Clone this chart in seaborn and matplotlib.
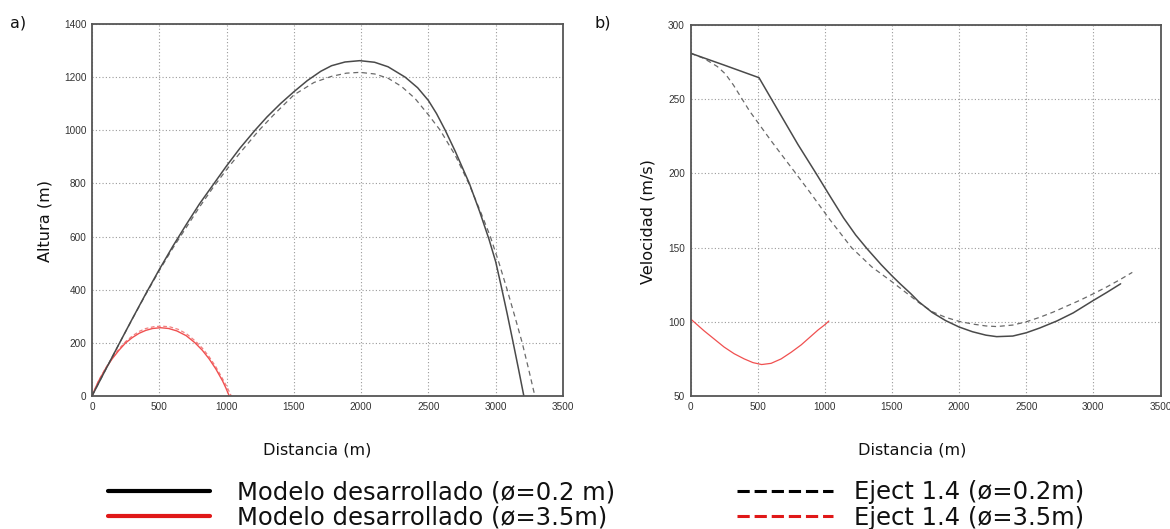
import matplotlib
matplotlib.use("Agg")
import matplotlib.pyplot as plt
from matplotlib.lines import Line2D
import seaborn as sns
import pandas as pd

# ---------------- data: panel a) Altura vs Distancia ----------------
a_model02_x = [0, 100, 200, 300, 400, 500, 600, 700, 800, 907, 1000, 1100, 1211, 1300, 1400, 1500,
               1600, 1700, 1780, 1880, 1990, 2100, 2200, 2327, 2420, 2500, 2560, 2625, 2700, 2804,
               2880, 2950, 3000, 3040, 3085, 3130, 3170, 3209]
a_model02_y = [0, 98, 195, 291, 385, 476, 563, 645, 724, 800, 866, 933, 1000, 1050, 1100, 1145,
               1187, 1222, 1243, 1257, 1262, 1256, 1239, 1200, 1160, 1112, 1063, 1000, 920, 800,
               695, 590, 505, 415, 310, 200, 100, 0]

a_eject02_x = [0, 100, 200, 300, 400, 500, 600, 700, 800, 900, 1000, 1100, 1241, 1350, 1500, 1650,
               1780, 1890, 1990, 2100, 2200, 2300, 2400, 2500, 2588, 2700, 2800, 2890, 2960, 3025,
               3085, 3140, 3197, 3245, 3291]
a_eject02_y = [0, 98, 195, 290, 383, 472, 556, 634, 712, 785, 852, 915, 1000, 1058, 1133, 1180,
               1203, 1215, 1218, 1212, 1196, 1165, 1120, 1058, 1000, 905, 800, 690, 600, 500,
               400, 303, 200, 100, 0]

a_model35_x = [0, 25, 50, 100, 150, 200, 250, 300, 350, 400, 450, 510, 570, 630, 700, 766, 820,
               870, 920, 970, 995, 1020]
a_model35_y = [0, 30, 57, 102, 140, 172, 200, 220, 236, 247, 254, 257, 254, 245, 227, 200, 172,
               140, 102, 57, 30, 0]

a_eject35_x = [0, 50, 100, 150, 200, 250, 300, 350, 400, 460, 520, 580, 640, 700, 770, 820, 870,
               920, 970, 1005, 1035]
a_eject35_y = [0, 58, 104, 144, 177, 205, 226, 243, 254, 261, 263, 260, 251, 235, 206, 180, 148,
               110, 65, 32, 0]

# ---------------- data: panel b) Velocidad vs Distancia ----------------
b_model02_x = [0, 250, 510, 600, 700, 800, 935, 1040, 1140, 1230, 1317, 1420, 1500, 1560, 1640,
               1700, 1800, 1900, 2000, 2100, 2200, 2280, 2400, 2500, 2600, 2727, 2850, 3000, 3100,
               3203]
b_model02_y = [281, 273, 264.5, 250.5, 235, 219.5, 200, 184.5, 170, 158.5, 149, 138.5, 131,
               125.7, 119, 113.5, 106.3, 100.8, 96.5, 93.3, 91, 90, 90.4, 92.6, 95.8, 100.5, 106,
               114.4, 119.8, 125.6]

b_eject02_x = [0, 100, 200, 260, 320, 378, 440, 500, 600, 700, 780, 900, 1028, 1199, 1350, 1500,
               1600, 1700, 1800, 1900, 2000, 2100, 2200, 2280, 2400, 2500, 2600, 2700, 2800, 2900,
               3000, 3100, 3200, 3290]
b_eject02_y = [281, 277.5, 272, 267, 259.5, 251, 242, 234.5, 222, 210, 200.5, 186, 170, 150, 137,
               127, 120, 113, 106.8, 103, 100.3, 98.5, 97.2, 96.8, 97.8, 100, 103, 106.5, 110.5,
               114.5, 118.9, 123.5, 128.5, 133.3]

b_model35_x = [0, 50, 100, 175, 250, 325, 400, 465, 530, 600, 675, 750, 825, 900, 950, 1000, 1030]
b_model35_y = [102, 98, 94, 88.5, 83, 78.5, 75, 72.5, 71.2, 72, 75, 79.5, 84.5, 90.5, 94.5, 98, 100.5]

x_ticks = [0, 500, 1000, 1500, 2000, 2500, 3000, 3500]
a_yticks = [0, 200, 400, 600, 800, 1000, 1200, 1400]
b_yticks = [50, 100, 150, 200, 250, 300]

legend_labels = ["Modelo desarrollado (ø=0.2 m)", "Modelo desarrollado (ø=3.5m)",
                 "Eject 1.4 (ø=0.2m)", "Eject 1.4 (ø=3.5m)"]

# ---------------- figure ----------------
sns.set_theme(style="white")
plt.rcParams["font.family"] = ["DejaVu Sans"]

fig = plt.figure(figsize=(11.7, 5.29), dpi=100)
W, H = 1170, 529
ax_a = fig.add_axes([92 / W, 1 - 396 / H, (563 - 92) / W, (396 - 24) / H])
ax_b = fig.add_axes([690.5 / W, 1 - 396 / H, (1160.5 - 690.5) / W, (396 - 25) / H])

solid_col = "#4a4a4a"
dash_col = "#6a6a6a"
red_col = "#f05050"


def draw(ax, x, y, color, lw, ls):
    df = pd.DataFrame({"x": x, "y": y})
    sns.lineplot(data=df, x="x", y="y", ax=ax, color=color, linewidth=lw,
                 linestyle=ls, estimator=None, sort=False, legend=False)


draw(ax_a, a_eject35_x, a_eject35_y, "#f28080", 0.9, (0, (3, 2)))
draw(ax_a, a_model35_x, a_model35_y, red_col, 1.0, "-")
draw(ax_a, a_eject02_x, a_eject02_y, dash_col, 0.9, (0, (4, 3)))
draw(ax_a, a_model02_x, a_model02_y, solid_col, 1.1, "-")

draw(ax_b, b_model35_x, b_model35_y, red_col, 0.9, "-")
draw(ax_b, b_eject02_x, b_eject02_y, dash_col, 0.9, (0, (4, 3)))
draw(ax_b, b_model02_x, b_model02_y, solid_col, 1.1, "-")

tick_font = {"family": "Liberation Sans", "size": 7.2}
for ax, yt, lx in ((ax_a, a_yticks, 0.479), (ax_b, b_yticks, 0.472)):
    ax.set_xlim(0, 3500)
    ax.set_ylim(yt[0], yt[-1])
    ax.set_xticks(x_ticks)
    ax.set_yticks(yt)
    ax.set_xticklabels([str(v) for v in x_ticks], fontdict=tick_font, color="#333333")
    ax.set_yticklabels([str(v) for v in yt], fontdict=tick_font, color="#333333")
    ax.tick_params(axis="both", length=0, pad=4)
    ax.grid(True, linestyle=(0, (1, 2)), color="#9a9a9a", linewidth=0.8)
    for sp in ax.spines.values():
        sp.set_visible(True)
        sp.set_color("#555555")
        sp.set_linewidth(1.3)
    ax.set_xlabel("Distancia (m)", fontsize=11.6, color="#111111")
    ax.xaxis.set_label_coords(lx, -0.125)

ax_a.set_ylabel("Altura (m)", fontsize=11.6, color="#111111")
ax_a.yaxis.set_label_coords(-0.083, 0.47)
ax_b.set_ylabel("Velocidad (m/s)", fontsize=11.6, color="#111111")
ax_b.yaxis.set_label_coords(-0.075, 0.47)

fig.text(10 / W, 1 - 23 / H, "a)", fontsize=11.5, va="center", ha="left", color="#111111")
fig.text(594 / W, 1 - 23 / H, "b)", fontsize=11.5, va="center", ha="left", color="#111111")

# legend (two columns placed below the panels)
h1 = [Line2D([0], [0], color="black", lw=3),
      Line2D([0], [0], color="#e01818", lw=3)]
h2 = [Line2D([0], [0], color="black", lw=2.2, linestyle=(0, (4, 1.6))),
      Line2D([0], [0], color="#e01818", lw=2.2, linestyle=(0, (4, 1.6)))]
leg_kw = dict(frameon=False, fontsize=17.5, borderpad=0, borderaxespad=0,
              labelspacing=0.05, loc="center left")
leg1 = fig.legend(h1, legend_labels[:2], bbox_to_anchor=(108 / W, 1 - 505 / H),
                  handlelength=4.2, handletextpad=1.1, **leg_kw)
leg2 = fig.legend(h2, legend_labels[2:], bbox_to_anchor=(737 / W, 1 - 505 / H),
                  handlelength=3.95, handletextpad=0.85, **leg_kw)
for leg in (leg1, leg2):
    for t in leg.get_texts():
        t.set_color("#111111")

fig.savefig("out.png", dpi=100)
